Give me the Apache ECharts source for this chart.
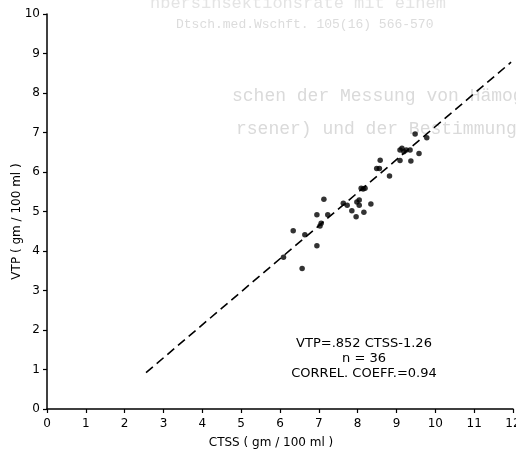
<!DOCTYPE html>
<html>
<head>
<meta charset="utf-8">
<script src="https://cdn.jsdelivr.net/npm/echarts@6/dist/echarts.min.js"></script>
<style>html,body{margin:0;padding:0;background:#fff;}#chart{width:516px;height:452px;}</style>
</head>
<body>
<div id="chart"></div>
<script>
// CTSS (x) values, gm/100 ml
var ctss = [6.34, 6.09, 6.57, 6.64, 6.95, 6.95, 7.06, 7.03, 7.13, 7.23,
            7.63, 7.73, 7.85, 7.96, 8.04, 8.04, 8.16, 8.34, 8.09, 8.19,
            8.58, 8.49, 8.56, 8.82, 9.09, 9.09, 9.14, 9.25, 9.35, 9.37,
            9.48, 9.58, 9.78, 9.19, 8.14, 7.98];
// VTP (y) values, gm/100 ml
var vtp  = [4.51, 3.84, 3.56, 4.41, 4.92, 4.13, 4.70, 4.63, 5.31, 4.92,
            5.21, 5.16, 5.02, 4.87, 5.29, 5.16, 4.98, 5.19, 5.59, 5.59,
            6.30, 6.09, 6.09, 5.90, 6.56, 6.29, 6.60, 6.56, 6.56, 6.28,
            6.96, 6.47, 6.87, 6.51, 5.57, 5.24];
// regression line end points as drawn (VTP = .852 CTSS - 1.26)
var fitX = [2.55, 11.95];
var fitY = [0.92, 8.78];
var xTicks = ['0','1','2','3','4','5','6','7','8','9','10','11','12'];
var yTicks = ['0','1','2','3','4','5','6','7','8','9','10'];
var noteLines = ['VTP=.852 CTSS-1.26', 'n = 36', 'CORREL. COEFF.=0.94'];

var points = ctss.map(function (x, i) { return [x, vtp[i]]; });
var fit = fitX.map(function (x, i) { return [x, fitY[i]]; });

var font = 'DejaVu Sans';
var chart = echarts.init(document.getElementById('chart'), null, {renderer: 'canvas'});
chart.setOption({
  animation: false,
  backgroundColor: '#fff',
  grid: {left: 47, right: 3, top: 14, bottom: 43, containLabel: false, outerBoundsMode: 'none'},
  xAxis: {
    type: 'value', min: 0, max: 12, interval: 1,
    name: 'CTSS ( gm / 100 ml )', nameLocation: 'middle', nameGap: 28, nameMoveOverlap: false,
    nameTextStyle: {fontFamily: font, fontSize: 12, color: '#000', padding: [0, 18, 0, 0]},
    axisLine: {lineStyle: {color: '#000', width: 1.5}},
    axisTick: {show: true, length: 4, inside: false, lineStyle: {color: '#000', width: 1.2}},
    axisLabel: {fontFamily: font, fontSize: 12, color: '#000', margin: 9,
      formatter: function (v) { return xTicks[Math.round(v)]; }},
    splitLine: {show: false}
  },
  yAxis: {
    type: 'value', min: 0, max: 10, interval: 1,
    name: 'VTP ( gm / 100 ml )', nameLocation: 'middle', nameGap: 24, nameMoveOverlap: false,
    nameTextStyle: {fontFamily: font, fontSize: 12, color: '#000', padding: [0, 20, 0, 0]},
    axisLine: {lineStyle: {color: '#000', width: 1.5}},
    axisTick: {show: true, length: 4, inside: false, lineStyle: {color: '#000', width: 1.2}},
    axisLabel: {fontFamily: font, fontSize: 12, color: '#000', margin: 7,
      formatter: function (v) { return yTicks[Math.round(v)]; }},
    splitLine: {show: false}
  },
  graphic: [
    {type: 'text', x: 150, y: -5, style: {text: 'nbersinsektionsrate mit einem', font: '17px "Liberation Mono"', fill: '#e4e4e4'}},
    {type: 'text', x: 176, y: 18, style: {text: 'Dtsch.med.Wschft. 105(16) 566-570', font: '13px "Liberation Mono"', fill: '#dcdcdc'}},
    {type: 'text', x: 232, y: 87, style: {text: 'schen der Messung von H\u00e4mog', font: '18px "Liberation Mono"', fill: '#dadada'}},
    {type: 'text', x: 236, y: 120, style: {text: 'rsener) und der Bestimmung', font: '18px "Liberation Mono"', fill: '#dadada'}},
    {type: 'text', x: 364, y: 336, style: {text: noteLines.join('\n'), font: '13px "DejaVu Sans"', fill: '#000', align: 'center', lineHeight: 15}}
  ],
  series: [
    {
      type: 'line', data: fit, showSymbol: false, silent: true,
      lineStyle: {color: '#000', width: 1.6, type: [9, 5]}
    },
    {
      type: 'scatter', data: points, symbol: 'circle', symbolSize: 5.5,
      itemStyle: {color: '#000'}
    }
  ]
});
</script>
</body>
</html>
